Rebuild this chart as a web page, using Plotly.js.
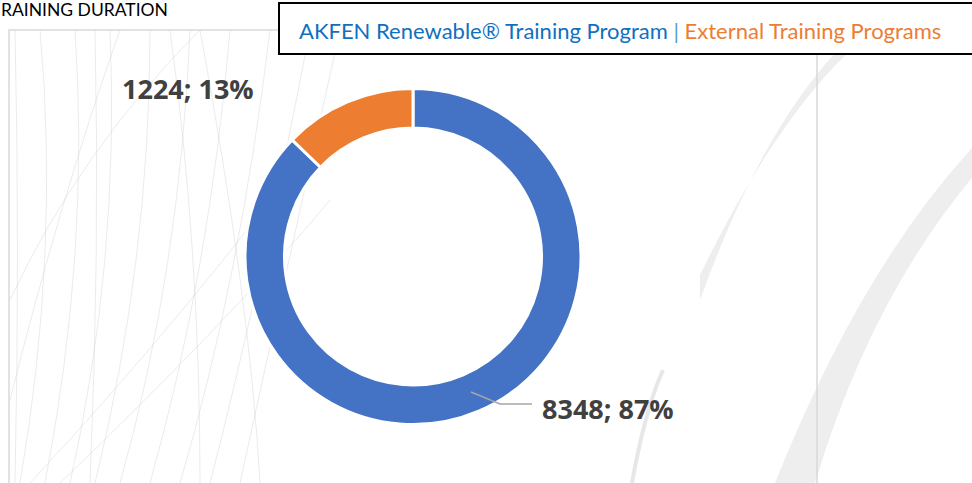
<!DOCTYPE html>
<html>
<head>
<meta charset="utf-8">
<script src="https://cdn.plot.ly/plotly-3.0.1.min.js"></script>
<style>html,body{margin:0;padding:0;background:#fff;}#chart{width:972px;height:483px;}</style>
</head>
<body>
<div id="chart"></div>
<script>
const categories = ["AKFEN Renewable® Training Program", "External Training Programs"];
const hours = [8348, 1224];
const sliceColors = ["#4472C4", "#ED7D31"];
const titleText = "RAINING DURATION";

const W = 972, H = 483;
const px = x => x / W;
const py = y => 1 - y / H;

const total = hours.reduce((a, b) => a + b, 0);
const labelText = hours.map(v => v + "; " + Math.round(v / total * 100) + "%");

const trace = {
  type: "pie",
  labels: categories,
  values: hours,
  sort: false,
  direction: "clockwise",
  rotation: 0,
  hole: 0.765,
  textinfo: "none",
  hoverinfo: "label+value+percent",
  marker: { colors: sliceColors, line: { color: "#ffffff", width: 3 } },
  domain: { x: [px(245), px(581)], y: [py(424.5), py(88.5)] },
  showlegend: false
};

// decorative background swooshes
const shapes = [];
const thin = [
  [20,483, 60,250, 40,30], [45,483, 90,250, 75,30], [70,483, 120,260, 110,30],
  [95,483, 150,260, 150,30], [120,483, 180,270, 190,30], [150,483, 210,270, 230,30],
  [180,483, 240,280, 270,30], [210,483, 260,290, 310,30], [240,483, 280,300, 340,30],
  [10,400, 60,200, 120,30], [10,300, 80,150, 200,30], [30,483, 200,300, 330,120],
  [60,483, 230,320, 330,200], [15,483, 20,250, 15,30], [90,483, 100,250, 95,30],
  [260,483, 250,300, 200,30], [200,483, 200,250, 170,30]
];
thin.forEach(c => shapes.push({
  type: "path", xref: "paper", yref: "paper", layer: "below",
  path: `M ${px(c[0])},${py(c[1])} Q ${px(c[2])},${py(c[3])} ${px(c[4])},${py(c[5])}`,
  line: { color: "rgba(205,205,205,0.4)", width: 1 }
}));
// broad swooshes on the right
shapes.push({ type: "path", xref: "paper", yref: "paper", layer: "below",
  path: `M ${px(700)},${py(275)} Q ${px(780)},${py(110)} ${px(862)},${py(40)} L ${px(848)},${py(40)} Q ${px(765)},${py(120)} ${px(700)},${py(300)} Z`,
  fillcolor: "rgba(236,236,236,0.9)", line: { width: 0 } });
shapes.push({ type: "path", xref: "paper", yref: "paper", layer: "below",
  path: `M ${px(775)},${py(483)} Q ${px(860)},${py(270)} ${px(972)},${py(148)} L ${px(972)},${py(178)} Q ${px(870)},${py(300)} ${px(815)},${py(483)} Z`,
  fillcolor: "rgba(236,236,236,0.9)", line: { width: 0 } });
shapes.push({ type: "path", xref: "paper", yref: "paper", layer: "below",
  path: `M ${px(632)},${py(483)} Q ${px(645)},${py(410)} ${px(663)},${py(370)}`,
  line: { color: "rgba(225,225,225,0.8)", width: 4 } });
// plot frame
shapes.push({ type: "rect", xref: "paper", yref: "paper", layer: "below",
  x0: px(9), x1: px(817), y0: py(485), y1: py(30),
  line: { color: "#d9d9d9", width: 1.5 }, fillcolor: "rgba(0,0,0,0)" });
// legend box
shapes.push({ type: "rect", xref: "paper", yref: "paper",
  x0: px(279), x1: px(975), y0: py(54), y1: py(3),
  line: { color: "#000000", width: 2 }, fillcolor: "#ffffff" });
// leader line for large slice
shapes.push({ type: "path", xref: "paper", yref: "paper",
  path: `M ${px(471)},${py(392)} L ${px(500)},${py(404)} L ${px(532)},${py(404)}`,
  line: { color: "#a6a6a6", width: 1.5 } });

const labFont = { family: "Open Sans, DejaVu Sans, sans-serif", size: 27, color: "#404040", weight: 700 };

const annotations = [
  { xref: "paper", yref: "paper", x: px(-1), y: py(10), xanchor: "left", yanchor: "middle",
    text: titleText, showarrow: false,
    font: { family: "Lato, Open Sans, sans-serif", size: 17.5, color: "#000000" } },
  { xref: "paper", yref: "paper", x: px(297), y: py(30), xanchor: "left", yanchor: "middle",
    showarrow: false,
    text: `<span style="color:#1070C0">${categories[0]}</span><span style="color:#5B9BD5"> | </span><span style="color:#ED7D31">${categories[1]}</span>`,
    font: { family: "Lato, Open Sans, sans-serif", size: 22, color: "#1070C0" } },
  { xref: "paper", yref: "paper", x: px(120), y: py(88), xanchor: "left", yanchor: "middle",
    text: "<b>" + labelText[1] + "</b>", showarrow: false, font: labFont },
  { xref: "paper", yref: "paper", x: px(540), y: py(408), xanchor: "left", yanchor: "middle",
    text: "<b>" + labelText[0] + "</b>", showarrow: false, font: labFont }
];

const layout = {
  width: W, height: H,
  margin: { l: 0, r: 0, t: 0, b: 0 },
  paper_bgcolor: "#ffffff",
  plot_bgcolor: "#ffffff",
  shapes: shapes,
  annotations: annotations,
  showlegend: false
};

Plotly.newPlot("chart", [trace], layout, { displayModeBar: false, staticPlot: true });
</script>
</body>
</html>
